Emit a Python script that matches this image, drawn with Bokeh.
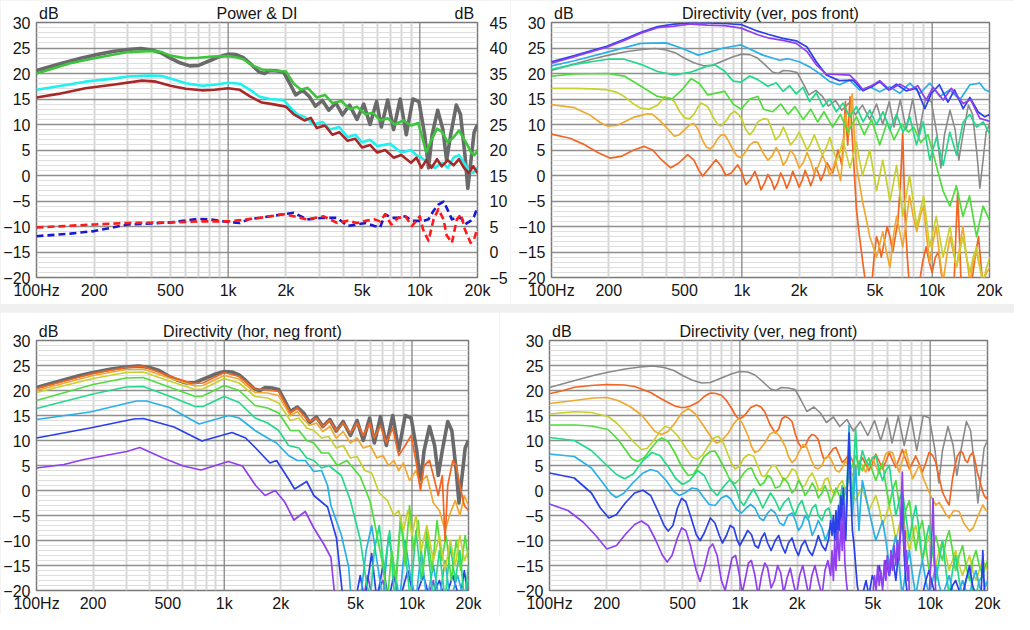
import math
from bokeh.plotting import figure
from bokeh.models import Range1d, LinearAxis, LogAxis, FixedTicker, Span
from bokeh.layouts import row, column
from bokeh.embed import file_html
from bokeh.resources import INLINE

FONT = "Liberation Sans"
X_TICKS = [100, 200, 500, 1000, 2000, 5000, 10000, 20000]
X_LABELS = ["100Hz", "200", "500", "1k", "2k", "5k", "10k", "20k"]
Y_TICKS = [30, 25, 20, 15, 10, 5, 0, -5, -10, -15, -20]
DI_TICKS = [45, 40, 35, 30, 25, 20, 15, 10, 5, 0, -5]
TITLES = ["Power & DI", "Directivity (ver, pos front)",
          "Directivity (hor, neg front)", "Directivity (ver, neg front)"]
UNIT = "dB"

# ---- on-axis response (shared grey curve) : (Hz, dB)
ONAXIS = [(100,20.6),(130,21.8),(170,23.0),(200,23.6),(250,24.3),(300,24.7),(350,24.9),(400,24.6),(450,24.0),(500,23.0),(560,22.1),(630,21.5),(700,21.6),(800,22.5),(900,23.3),(1000,23.8),(1100,23.7),(1200,23.1),(1300,22.0),(1450,20.3),(1550,20.0),(1650,20.6),(1800,20.5),(1950,20.2),(2100,18.0),(2250,15.8),(2450,16.7),(2650,15.5),(2850,13.6),(3100,14.7),(3350,12.8),(3650,14.2),(3950,11.9),(4300,13.8),(4700,11.0),(5100,14.0),(5500,10.0),(5950,14.5),(6300,9.5),(6800,14.8),(7300,9.0),(7900,15.0),(8500,8.0),(9200,15.0),(9900,14.5),(10600,8.0),(11100,1.5),(11600,8.0),(12400,12.8),(13200,9.0),(13800,3.0),(14500,8.0),(15500,13.8),(16300,12.0),(17200,4.0),(17800,-2.5),(18500,3.0),(19200,8.5),(20000,10.0)]

# ---- Power & DI panel
P1_GREEN = [(100,20.0),(150,22.0),(200,23.0),(300,24.2),(400,24.4),(450,24.2),(500,23.5),(600,23.0),(700,23.1),(830,23.3),(1000,23.4),(1100,23.2),(1200,22.8),(1350,21.5),(1500,20.8),(1700,20.6),(2000,20.4),(2200,18.0),(2400,16.8),(2600,17.2),(2900,15.3),(3200,15.8),(3500,14.2),(3900,14.6),(4300,13.0),(4700,13.5),(5200,12.0),(5700,12.3),(6200,10.8),(6800,11.2),(7400,10.0),(8200,10.8),(9000,9.8),(9800,10.3),(10300,7.5),(10800,4.5),(11500,7.0),(12300,9.2),(13100,8.5),(14000,6.5),(15000,7.5),(16000,8.8),(16800,7.5),(17700,6.0),(18500,4.5),(19300,4.0),(20000,5.0)]
P1_CYAN = [(100,16.8),(130,17.5),(180,18.4),(250,19.0),(300,19.4),(385,19.6),(450,19.5),(500,19.0),(600,18.1),(730,17.6),(850,17.8),(1000,18.2),(1150,18.0),(1300,16.8),(1450,15.5),(1650,15.0),(1950,14.8),(2150,13.0),(2300,12.0),(2500,11.5),(2800,10.0),(3100,10.5),(3400,9.0),(3800,9.5),(4200,7.5),(4600,8.0),(5000,6.5),(5500,7.0),(6000,5.8),(7000,6.2),(8000,4.5),(9000,5.0),(9600,4.0),(10200,3.5),(11000,2.5),(12000,1.5),(13000,2.5),(14000,1.5),(15000,3.5),(16000,4.0),(17000,2.5),(18000,1.0),(19000,0.5),(20000,1.5)]
P1_BROWN = [(100,15.3),(130,16.0),(180,17.1),(250,17.8),(355,18.6),(420,18.4),(500,17.6),(600,17.0),(730,16.7),(850,16.8),(1000,17.1),(1150,16.8),(1300,15.5),(1500,14.3),(1700,14.0),(2000,13.5),(2200,12.0),(2500,10.8),(2700,11.3),(2900,9.3),(3200,9.8),(3500,8.0),(3800,8.5),(4200,6.8),(4600,7.2),(5000,5.5),(5500,6.0),(6000,4.5),(6600,5.0),(7300,3.5),(8000,4.0),(9000,2.5),(9600,3.5),(10200,1.5),(10800,3.0),(11500,1.5),(12300,3.2),(13000,1.8),(14000,3.0),(15000,2.0),(16000,3.2),(17000,1.5),(18000,0.5),(19000,1.8),(20000,0.5)]
# DI curves, right-axis dB
P1_DI_RED = [(100,4.8),(200,5.4),(300,5.7),(500,5.8),(700,6.0),(1000,6.0),(1200,6.3),(1470,6.7),(1940,7.4),(2200,7.0),(2580,6.4),(3150,7.0),(3700,5.7),(4200,6.1),(4700,5.7),(5200,6.1),(5800,6.4),(6200,6.0),(6600,7.4),(7100,5.4),(7700,6.7),(8400,7.0),(9100,5.1),(10000,7.0),(10400,4.4),(11100,2.2),(11800,6.4),(12500,8.4),(13300,6.4),(13800,3.3),(14700,1.8),(15600,6.4),(16400,7.4),(17200,4.4),(18400,1.8),(19200,2.5),(20000,4.8)]
P1_DI_BLUE = [(100,3.1),(150,3.6),(200,4.1),(300,5.4),(400,5.6),(500,5.8),(700,6.5),(800,6.4),(1000,5.9),(1150,5.7),(1300,6.5),(1470,6.7),(1940,7.4),(2200,7.7),(2580,6.4),(3150,6.7),(3700,6.7),(4200,5.1),(4700,5.4),(5200,5.7),(5800,5.1),(6200,4.8),(6600,7.4),(7100,6.7),(7700,6.7),(8400,7.0),(9100,6.1),(10000,6.1),(10400,6.1),(11100,6.4),(11800,8.1),(12500,9.3),(13300,9.9),(13800,8.7),(14700,6.4),(15600,6.7),(16400,6.7),(17200,5.4),(18400,6.1),(19200,7.0),(20000,8.7)]

# ---- Directivity (ver, pos front)
P2_C8 = [(100,22.0),(132,23.3),(197,25.2),(241,26.5),(295,27.9),(361,29.0),(442,29.3),(541,29.7),(662,29.5),(811,29.4),(991,28.9),(1213,27.6),(1370,27.0),(1644,26.5),(1932,25.9),(2200,24.3),(2461,21.7),(2780,19.9),(3687,19.7),(3997,18.4),(4334,16.8),(4900,17.8),(5300,18.6),(5986,16.8),(6760,17.9),(7627,16.8),(8400,17.6),(9300,14.8),(10100,17.3),(11420,14.8),(12600,17.1),(14553,14.1),(15900,14.9),(17800,11.2),(20130,10.6)]
P2_C7 = [(100,22.3),(132,23.5),(197,25.4),(241,26.7),(295,28.1),(361,29.2),(442,29.7),(541,29.9),(662,29.9),(811,29.8),(991,29.6),(1213,28.3),(1370,27.7),(1644,26.9),(1932,26.4),(2200,25.2),(2461,22.3),(2780,19.7),(3250,18.6),(3840,18.7),(4334,16.6),(4800,17.4),(5300,18.4),(5900,16.8),(6489,17.9),(7300,16.6),(8268,17.1),(9150,13.1),(9900,16.1),(10900,17.8),(12100,14.4),(13100,16.8),(14553,13.1),(15778,15.3),(17400,12.5),(18900,11.5),(20130,12.0)]
P2_C6 = [(100,21.5),(132,22.5),(197,24.2),(295,25.9),(400,26.0),(480,25.0),(590,23.6),(800,25.0),(991,25.6),(1290,23.6),(1580,22.6),(1750,22.9),(2000,22.3),(2270,21.3),(2560,20.0),(2894,18.4),(3260,17.8),(3687,18.7),(4150,16.8),(4698,17.4),(5300,16.4),(5986,17.4),(6760,16.1),(7627,18.1),(8600,16.1),(9718,18.1),(10970,15.5),(12382,16.8),(13950,14.8),(15778,17.8),(17800,18.1),(18900,16.8),(20130,16.4)]
P2_C5 = [(100,20.8),(132,21.8),(197,22.8),(241,22.8),(295,21.8),(361,20.4),(442,19.7),(541,20.3),(662,21.5),(720,21.7),(811,20.5),(900,18.5),(991,18.3),(1100,19.5),(1213,18.8),(1370,17.5),(1516,18.2),(1644,16.5),(1782,17.6),(1932,16.0),(2094,17.3),(2270,14.5),(2461,16.2),(2668,13.5),(2894,15.0),(3137,12.5),(3401,14.2),(3687,11.5),(3997,13.5),(4334,10.5),(4698,12.8),(5093,10.0),(5521,12.5),(5986,9.0),(6489,12.0),(7035,8.5),(7627,11.5),(8268,6.0),(8963,10.5),(9718,3.0),(10535,7.5),(11420,2.0),(12382,8.5),(13423,4.0),(14553,10.5),(15778,12.0),(17104,9.5),(18544,10.5),(20130,8.0)]
P2_C4 = [(100,19.5),(132,19.9),(197,20.0),(241,19.5),(295,17.5),(361,15.5),(430,15.0),(490,17.0),(541,19.0),(600,18.0),(662,15.8),(740,16.2),(811,16.5),(900,14.0),(991,13.0),(1100,15.0),(1213,15.5),(1300,13.0),(1450,12.5),(1600,14.0),(1750,12.0),(1900,13.5),(2100,11.0),(2300,13.0),(2500,10.5),(2700,12.5),(3000,9.5),(3300,12.0),(3600,8.5),(4000,11.5),(4400,8.0),(4800,11.0),(5300,6.0),(5800,10.5),(6300,7.0),(6900,10.0),(7500,8.5),(8000,9.5),(8700,6.5),(9500,8.0),(10000,5.0),(10500,2.0),(11400,-3.0),(12400,-6.0),(13400,-2.0),(14500,-8.0),(15700,-4.0),(17100,-12.0),(18500,-6.0),(20130,-9.0)]
P2_C3 = [(100,17.1),(132,17.1),(165,17.0),(197,16.8),(220,16.3),(241,15.5),(270,14.0),(295,13.2),(325,13.0),(361,13.8),(392,15.4),(420,15.2),(442,14.5),(470,12.6),(500,11.3),(530,11.1),(560,12.0),(590,13.5),(611,14.2),(662,13.5),(705,11.5),(750,9.9),(778,9.7),(830,10.8),(870,12.0),(915,12.6),(960,12.0),(1000,11.0),(1050,9.0),(1100,8.0),(1150,8.8),(1213,10.5),(1290,11.1),(1370,11.0),(1440,9.0),(1500,7.0),(1580,7.8),(1650,9.5),(1720,8.0),(1800,6.0),(1900,7.0),(2000,8.5),(2100,6.8),(2200,5.0),(2300,6.2),(2400,8.0),(2520,6.0),(2650,4.0),(2780,5.5),(2900,7.5),(3020,5.0),(3150,3.0),(3270,4.5),(3400,7.0),(3550,4.0),(3700,1.5),(3850,4.0),(4000,6.5),(4150,3.0),(4300,0.0),(4500,2.5),(4700,5.0),(4900,1.0),(5100,-3.0),(5300,0.0),(5500,3.0),(5750,-1.0),(6000,-5.0),(6250,-1.5),(6500,2.0),(6750,-3.0),(7000,-8.0),(7300,-4.0),(7600,0.0),(7950,-5.0),(8300,-10.0),(8650,-7.0),(9000,-4.0),(9350,-9.0),(9700,-14.0),(10100,-11.0),(10500,-8.0),(10950,-12.0),(11400,-16.0),(11900,-13.0),(12400,-10.0),(12900,-14.0),(13400,-18.0),(13950,-15.0),(14500,-12.0),(15150,-16.0),(15800,-19.0),(16400,-16.0),(17100,-14.0),(17800,-18.0),(18500,-21.0),(19300,-18.0),(20130,-16.0)]
P2_C2 = [(100,13.9),(132,13.3),(160,11.8),(180,10.4),(197,9.7),(220,9.8),(241,10.5),(270,11.4),(295,11.8),(320,12.1),(340,12.0),(370,10.8),(400,9.5),(442,7.7),(470,8.0),(500,9.0),(530,9.9),(560,10.2),(590,9.0),(620,7.0),(650,5.6),(680,5.2),(710,5.8),(740,7.0),(775,7.9),(811,8.0),(850,6.8),(900,5.0),(945,3.8),(991,3.5),(1040,4.5),(1100,6.0),(1160,6.6),(1213,6.5),(1290,4.5),(1370,3.0),(1440,3.8),(1516,5.5),(1580,4.2),(1650,2.0),(1720,3.0),(1800,5.0),(1900,3.8),(2000,1.5),(2100,2.5),(2200,4.5),(2300,2.8),(2400,0.5),(2520,1.8),(2650,4.0),(2780,2.2),(2900,0.0),(3000,1.2),(3100,3.0),(3200,1.0),(3300,-1.0),(3400,4.0),(3500,12.0),(3650,8.0),(3800,16.0),(3900,8.0),(4000,2.0),(4150,-1.5),(4300,-5.0),(4500,-8.5),(4700,-12.0),(4900,-14.0),(5100,-16.0),(5300,-13.5),(5500,-11.0),(5750,-15.0),(6000,-18.0),(6250,-12.0),(6500,-8.0),(6750,-11.0),(7000,-14.0),(7300,-9.0),(7600,-4.0),(7950,-8.0),(8300,-11.0),(8650,-8.0),(9000,-6.0),(9350,-12.0),(9700,-17.0),(10100,-13.0),(10500,-10.0),(10950,-16.0),(11400,-21.0),(11900,-16.0),(12400,-12.0),(12900,-15.0),(13400,-18.0),(13950,-14.0),(14500,-10.0),(15150,-16.0),(15800,-21.0),(16400,-17.0),(17100,-15.0),(17800,-18.0),(18500,-21.0),(19300,-19.0),(20130,-18.0)]
P2_C1 = [(100,8.1),(125,7.3),(150,6.0),(175,4.5),(204,3.4),(235,3.8),(270,5.0),(307,5.7),(340,5.0),(380,3.0),(423,1.5),(465,2.4),(519,4.1),(560,3.0),(595,1.0),(623,-0.1),(665,1.2),(731,3.1),(780,1.8),(824,0.0),(880,0.5),(952,2.1),(1000,0.6),(1050,-1.8),(1110,-0.8),(1170,0.8),(1215,-0.8),(1260,-2.8),(1320,-1.4),(1370,0.2),(1430,-1.0),(1480,-2.7),(1540,-1.5),(1600,0.5),(1660,-0.8),(1720,-2.5),(1790,-1.0),(1850,0.8),(1920,-0.6),(2000,-2.3),(2080,-0.8),(2150,1.0),(2230,-0.5),(2300,-2.0),(2380,-0.5),(2450,1.5),(2520,0.5),(2600,-1.0),(2700,0.5),(2800,2.5),(2900,1.5),(3000,0.5),(3100,2.5),(3200,5.0),(3280,3.5),(3350,2.0),(3430,8.0),(3500,14.5),(3550,9.0),(3600,6.0),(3650,11.0),(3700,15.4),(3780,9.0),(3850,4.0),(4000,-6.7),(4150,-12.0),(4300,-16.5),(4500,-22.0),(4800,-22.0),(4950,-16.0),(5100,-12.0),(5250,-13.5),(5400,-16.0),(5600,-13.0),(5800,-10.0),(6000,-12.0),(6200,-15.0),(6400,-12.0),(6600,-9.0),(6800,-2.0),(7000,8.3),(7100,0.0),(7200,-8.0),(7400,-16.0),(7600,-22.0),(8500,-22.0),(8900,-17.0),(9300,-14.0),(9650,-17.0),(10000,-19.0),(10400,-16.0),(10800,-15.0),(11150,-19.0),(11500,-22.0),(13000,-22.0),(13300,-12.0),(13600,-3.4),(13900,-12.0),(14200,-22.0),(16000,-22.0),(16800,-16.0),(17500,-12.0),(18000,-17.0),(18500,-22.0),(20130,-22.0)]

# ---- Directivity (hor, neg front)
P3_C1 = [(100,20.4),(200,23.4),(300,24.6),(370,24.8),(500,23.0),(680,21.4),(770,21.5),(1000,23.6),(1200,22.8),(1460,20.3),(1650,20.2),(1950,19.8),(2250,15.5),(2450,16.5),(2650,15.0),(2850,13.8),(3100,14.5),(3350,12.8),(3650,14.0),(3950,12.0),(4300,13.5),(4700,11.5),(5100,13.5),(5500,11.0),(5950,13.5),(6300,10.5),(6800,13.0),(7300,9.5),(7900,12.5),(8500,7.0),(9200,9.0),(9900,11.0),(10600,5.0),(11100,0.0),(11600,5.0),(12400,6.0),(13200,2.0),(13800,-1.0),(14500,3.0),(15000,-10.0),(15500,1.0),(16500,6.0),(17200,5.0),(18000,1.0),(19000,-3.0),(20000,-4.0)]
P3_C2 = [(100,20.0),(200,23.0),(300,24.2),(370,24.3),(500,22.6),(700,20.9),(770,21.0),(1000,23.0),(1200,22.3),(1460,19.6),(1700,19.5),(1950,19.0),(2250,15.0),(2450,15.8),(2650,14.2),(2850,13.0),(3100,13.5),(3350,11.8),(3650,12.8),(3950,10.5),(4300,11.8),(4700,9.5),(5100,10.5),(5500,8.5),(6000,9.0),(6500,6.5),(7000,7.0),(7500,5.0),(8000,6.0),(8500,4.0),(9000,5.5),(9700,2.0),(10500,4.0),(11000,1.5),(12000,3.0),(13000,-2.5),(14000,-4.0),(15000,-8.0),(16000,-4.5),(17000,-2.0),(18000,-5.0),(19000,-1.0),(20000,-3.0)]
P3_C3 = [(100,19.6),(200,22.4),(300,23.6),(370,23.7),(500,22.0),(700,20.2),(770,20.3),(1000,22.4),(1200,21.5),(1460,18.8),(1700,18.5),(1950,17.5),(2250,14.0),(2500,14.5),(2750,12.5),(3000,12.0),(3300,10.5),(3600,10.8),(3950,8.5),(4300,9.0),(4700,6.5),(5100,6.8),(5600,4.0),(6100,3.5),(6700,-0.5),(7400,-2.0),(8000,-5.0),(8500,-4.0),(9000,-8.0),(9500,-4.0),(10000,-9.0),(10500,-5.0),(11200,-12.0),(12000,-7.0),(13000,-14.0),(14000,-9.0),(15000,-16.0),(16000,-10.0),(17000,-15.0),(18000,-9.0),(19000,-14.0),(20000,-12.0)]
P3_C4 = [(100,18.0),(200,21.2),(300,22.5),(370,22.6),(500,20.8),(700,18.8),(770,18.9),(1000,21.0),(1200,20.0),(1460,17.0),(1700,16.5),(1950,15.5),(2250,12.0),(2500,12.0),(2750,10.0),(3000,9.5),(3300,7.5),(3600,7.5),(4000,5.0),(4500,6.0),(5300,2.8),(6000,-2.3),(6500,-8.8),(7000,-15.0),(7400,-22.0),(7800,-12.0),(8200,-18.0),(8700,-5.0),(9200,-15.0),(9700,-3.0),(10200,-12.0),(10800,-6.0),(11400,-17.0),(12000,-8.0),(12800,-16.0),(13600,-6.0),(14400,-14.0),(15200,-9.0),(16200,-18.0),(17200,-10.0),(18200,-16.0),(19200,-9.0),(20000,-14.0)]
P3_C5 = [(100,16.4),(200,19.3),(300,20.7),(370,20.8),(500,19.0),(700,16.8),(770,16.8),(1000,18.8),(1200,17.6),(1460,14.5),(1700,13.5),(1950,12.0),(2200,9.0),(2500,8.5),(2750,6.5),(3000,6.0),(3300,4.5),(3600,5.0),(4200,3.0),(4700,-2.0),(5300,-9.8),(5700,-18.0),(6000,-22.0),(6300,-12.0),(6700,-7.0),(7100,-16.0),(7600,-8.0),(8100,-22.0),(8700,-6.0),(9200,-12.0),(9800,-22.0),(10500,-8.0),(11200,-18.0),(12000,-10.0),(13000,-22.0),(14000,-12.0),(15000,-22.0),(16000,-11.0),(17000,-18.0),(18000,-12.0),(19000,-22.0),(20000,-15.0)]
P3_C6 = [(100,14.2),(193,15.7),(341,17.9),(385,17.9),(510,16.6),(735,13.3),(1060,15.0),(1200,14.5),(1460,12.0),(1700,10.5),(1900,9.5),(2200,7.0),(2450,6.0),(2700,6.0),(3000,3.8),(3300,4.0),(3550,1.0),(3700,-3.0),(4200,-8.8),(4600,-15.3),(4750,-22.0),(5300,-22.0),(5700,-12.0),(6100,-7.0),(6500,-14.0),(7000,-22.0),(7500,-9.0),(8000,-15.0),(8600,-22.0),(9200,-10.0),(9800,-17.0),(10500,-22.0),(11200,-12.0),(12000,-22.0),(13000,-15.0),(14000,-22.0),(15000,-14.0),(16000,-22.0),(17500,-17.0),(19000,-22.0),(20000,-18.0)]
P3_C7 = [(100,10.5),(193,12.5),(330,14.3),(371,14.4),(540,12.7),(760,9.9),(1100,11.6),(1300,10.5),(1470,8.5),(1750,5.5),(1900,6.0),(2200,2.3),(2370,0.3),(2750,1.8),(3000,-1.0),(3550,-3.3),(3960,-9.5),(4300,-22.0),(5000,-22.0),(5300,-17.0),(5600,-22.0),(6100,-12.6),(6500,-22.0),(7000,-15.0),(7500,-22.0),(8000,-17.0),(8600,-22.0),(9500,-16.0),(10300,-22.0),(11500,-17.0),(12500,-22.0),(14000,-18.0),(15000,-22.0),(16500,-17.0),(18000,-22.0),(19000,-16.0),(20000,-22.0)]
P3_C8 = [(100,4.5),(140,5.2),(179,6.2),(302,7.8),(355,8.6),(472,6.5),(605,4.9),(752,4.1),(1050,5.8),(1250,4.9),(1470,1.0),(1650,-1.0),(1870,0.0),(2100,-2.3),(2350,-5.9),(2700,-4.2),(3000,-7.5),(3400,-10.8),(3700,-13.4),(3900,-22.0),(5500,-22.0),(5800,-17.0),(6200,-22.0),(7000,-18.0),(7500,-22.0),(12000,-22.0),(13000,-18.0),(13500,-22.0),(20000,-22.0)]

# ---- Directivity (ver, neg front)
P4_C1 = [(100,19.35),(118,20.0),(135,20.65),(165,21.0),(200,21.2),(248,21.1),(280,20.8),(304,20.3),(340,19.6),(372,18.7),(410,17.8),(456,16.9),(490,16.6),(514,16.6),(550,16.9),(605,17.7),(650,18.8),(690,19.4),(711,19.5),(750,19.4),(804,19.0),(850,18.0),(906,16.4),(950,15.0),(982,14.4),(1020,14.5),(1064,15.1),(1140,16.6),(1224,17.1),(1290,16.7),(1352,15.75),(1440,13.2),(1535,11.5),(1600,12.3),(1660,14.3),(1729,14.8),(1800,14.5),(1880,13.8),(1950,11.5),(2030,9.5),(2110,8.6),(2198,8.8),(2300,10.5),(2383,11.2),(2480,11.0),(2583,10.2),(2670,8.0),(2760,6.3),(2870,6.6),(2990,7.6),(3100,8.4),(3200,8.6),(3330,7.0),(3450,5.6),(3600,6.3),(3748,7.25),(3900,6.0),(4060,4.6),(4230,5.3),(4401,6.6),(4580,5.3),(4765,4.0),(4965,5.4),(5177,7.25),(5400,5.8),(5622,4.3),(5850,5.8),(6100,7.6),(6340,6.0),(6600,4.6),(6870,6.4),(7140,8.2),(7440,6.2),(7770,4.3),(8080,5.6),(8400,6.9),(8750,5.3),(9100,3.7),(9480,5.5),(9860,7.6),(10300,7.0),(10700,5.6),(11150,2.5),(11600,-0.3),(12100,-1.8),(12580,-2.9),(13100,2.35),(13500,5.0),(13900,6.9),(14400,7.8),(14800,7.6),(15300,6.0),(15700,5.6),(16200,7.0),(16700,7.6),(17000,6.8),(17400,5.0),(17700,3.5),(18100,2.35),(18500,1.0),(18900,-0.3),(19300,-1.2),(19700,-1.6),(20000,-1.2)]
P4_C2 = [(100,17.4),(135,18.0),(170,18.5),(200,18.6),(229,18.0),(265,16.8),(304,15.1),(330,13.5),(358,11.8),(388,11.2),(420,11.8),(456,13.5),(495,15.5),(535,16.4),(581,15.4),(630,13.5),(684,11.5),(720,10.2),(755,9.5),(800,9.9),(871,11.5),(930,13.4),(982,14.4),(1030,13.5),(1107,10.85),(1150,8.8),(1199,7.6),(1260,8.0),(1352,9.5),(1440,11.3),(1535,11.8),(1620,10.8),(1729,8.9),(1800,6.8),(1880,5.6),(1960,6.2),(2050,7.8),(2150,9.2),(2250,8.6),(2383,5.95),(2480,4.6),(2583,4.3),(2700,5.0),(2800,6.5),(2933,6.9),(3050,5.8),(3200,4.0),(3329,3.7),(3450,4.6),(3598,5.95),(3750,4.5),(3901,3.0),(4060,4.3),(4226,5.95),(4400,5.0),(4580,3.7),(4770,5.0),(4965,6.6),(5170,5.0),(5383,3.4),(5600,5.2),(5835,7.25),(6100,7.8),(6340,7.6),(6600,5.5),(6870,3.7),(7140,6.0),(7440,8.2),(7770,5.0),(8080,2.35),(8400,3.6),(8750,5.0),(9300,2.0),(9860,-0.3),(10300,-1.8),(10700,-2.9),(11150,-2.4),(11600,-3.5),(12100,-4.8),(12580,-5.5),(13300,-4.0),(14200,-4.2),(15000,-6.5),(16100,-8.1),(16800,-7.5),(17400,-6.1),(18100,-4.5),(18900,-2.9),(19500,-3.8),(20000,-4.2)]
P4_C3 = [(100,15.3),(135,15.75),(166,15.6),(203,14.8),(225,13.5),(248,11.8),(275,9.8),(304,8.2),(325,8.4),(350,9.8),(380,11.8),(404,12.8),(430,12.5),(470,11.0),(520,8.5),(560,6.7),(600,6.2),(640,7.2),(690,9.2),(730,10.5),(770,10.85),(820,9.5),(870,7.0),(910,5.2),(943,4.3),(990,4.8),(1050,6.5),(1110,7.2),(1180,6.9),(1240,5.0),(1300,3.0),(1350,2.8),(1420,4.0),(1480,5.0),(1535,5.0),(1620,3.5),(1700,2.0),(1790,2.8),(1880,4.3),(1960,4.0),(2030,2.5),(2120,0.8),(2200,1.0),(2300,2.6),(2400,3.5),(2500,2.0),(2600,0.0),(2700,0.5),(2800,2.2),(2900,2.5),(3000,0.5),(3150,-1.0),(3300,1.0),(3450,2.0),(3600,0.0),(3750,2.5),(3900,-0.5),(4060,-2.0),(4230,-0.5),(4400,0.5),(4580,-1.5),(4765,-4.0),(4965,-2.5),(5177,-1.0),(5400,-3.5),(5622,-7.0),(5850,-5.0),(6100,-3.0),(6340,-6.0),(6600,-10.0),(6870,-7.0),(7140,-5.0),(7440,-8.0),(7770,-12.0),(8080,-9.0),(8400,-7.0),(8750,-10.0),(9100,-14.0),(9480,-11.0),(9860,-9.0),(10300,-12.0),(10700,-15.0),(11150,-12.0),(11600,-10.0),(12100,-13.0),(12580,-16.0),(13100,-14.0),(13600,-12.0),(14200,-15.0),(14800,-17.0),(15400,-15.0),(16100,-13.0),(16700,-16.0),(17400,-18.0),(18100,-16.0),(18900,-14.0),(19500,-15.0),(20000,-16.0)]
P4_C4 = [(100,13.1),(135,13.1),(166,12.9),(203,12.2),(229,10.2),(250,8.2),(270,6.4),(290,5.8),(315,6.6),(345,8.6),(370,10.0),(388,10.5),(420,9.8),(455,7.6),(495,4.8),(535,3.0),(570,3.2),(605,4.8),(650,6.8),(700,7.8),(740,7.9),(790,6.0),(840,4.0),(890,2.0),(943,1.4),(1000,2.3),(1050,3.5),(1100,4.3),(1150,4.5),(1210,2.6),(1280,1.0),(1340,1.6),(1400,3.0),(1460,2.5),(1535,0.5),(1620,0.8),(1700,2.5),(1790,1.5),(1880,-0.5),(1960,0.3),(2030,2.0),(2110,1.0),(2200,-1.0),(2300,0.0),(2400,1.5),(2500,0.3),(2583,-1.5),(2700,-0.5),(2800,1.0),(2900,-0.5),(3000,-2.5),(3100,-1.0),(3200,0.5),(3330,-1.0),(3450,-3.0),(3600,0.0),(3750,3.0),(3900,5.0),(4060,7.0),(4230,5.0),(4401,4.0),(4580,5.5),(4765,6.5),(4965,4.0),(5177,2.0),(5400,4.0),(5622,5.5),(5850,1.0),(6100,-3.0),(6340,0.0),(6600,2.0),(6870,-3.0),(7140,-8.0),(7440,-4.0),(7770,-2.0),(8080,-7.0),(8400,-12.0),(8750,-8.0),(9100,-6.0),(9480,-11.0),(9860,-16.0),(10300,-12.0),(10700,-9.0),(11150,-12.0),(11600,-14.0),(12100,-10.0),(12580,-8.0),(13100,-12.0),(13600,-16.0),(14200,-13.0),(14800,-11.0),(15400,-15.0),(16100,-18.0),(16700,-14.0),(17400,-12.0),(18100,-15.0),(18900,-17.0),(19500,-15.0),(20000,-14.0)]
P4_C5 = [(100,10.6),(135,10.0),(166,8.0),(200,5.0),(225,3.2),(248,2.35),(275,3.3),(310,6.0),(345,7.6),(380,7.0),(420,4.8),(460,2.4),(500,1.2),(545,2.0),(600,4.0),(650,3.0),(700,0.5),(760,-1.0),(830,1.0),(890,2.2),(950,0.5),(1000,-2.0),(1050,-3.0),(1120,-1.0),(1180,0.3),(1250,-1.5),(1320,-3.5),(1380,-2.0),(1450,-0.5),(1535,-2.0),(1620,-4.0),(1700,-2.5),(1800,-1.5),(1880,-3.5),(1950,-5.0),(2030,-3.0),(2120,-2.0),(2200,-4.0),(2300,-5.5),(2400,-3.5),(2500,-2.8),(2583,-5.0),(2700,-6.0),(2817,-4.0),(2933,-3.5),(3050,-6.0),(3200,-6.5),(3329,-3.0),(3450,1.0),(3530,-4.0),(3598,-6.0),(3680,3.0),(3748,9.0),(3820,2.0),(3901,-2.0),(3980,6.0),(4060,12.2),(4140,6.0),(4226,3.0),(4300,6.0),(4401,8.0),(4580,6.0),(4765,5.0),(4965,6.5),(5177,7.0),(5400,4.0),(5622,2.0),(5850,4.0),(6100,5.0),(6340,0.0),(6600,-5.0),(6870,-2.0),(7140,0.0),(7440,-5.0),(7770,-10.0),(8080,-6.0),(8400,-3.0),(8750,-8.0),(9100,-14.0),(9480,-10.0),(9860,-7.0),(10300,-12.0),(10700,-18.0),(11150,-14.0),(11600,-10.0),(12100,-16.0),(12580,-21.0),(13100,-16.0),(13600,-13.0),(14200,-18.0),(14800,-21.0),(15400,-18.0),(16100,-16.0),(16700,-20.0),(17400,-21.0),(18100,-18.0),(18900,-17.0),(19500,-19.0),(20000,-19.0)]
P4_C6 = [(100,7.3),(135,6.8),(166,4.5),(190,1.6),(210,-0.6),(224,-1.4),(245,-0.6),(275,1.6),(310,3.5),(340,4.2),(370,3.8),(410,2.0),(450,-0.2),(480,-1.0),(514,-0.5),(560,0.5),(600,0.3),(640,-1.2),(690,-2.8),(740,-3.0),(800,-1.5),(850,-1.0),(900,-1.8),(960,-3.8),(1022,-4.5),(1080,-3.5),(1140,-2.8),(1200,-3.5),(1270,-5.5),(1330,-6.0),(1400,-4.5),(1460,-3.8),(1535,-4.5),(1620,-6.5),(1700,-7.0),(1790,-5.0),(1880,-4.5),(1960,-6.0),(2030,-8.0),(2120,-7.0),(2200,-5.0),(2300,-6.0),(2400,-9.0),(2500,-7.5),(2583,-6.0),(2700,-7.5),(2817,-10.0),(2933,-8.0),(3050,-6.5),(3200,-10.0),(3329,-7.0),(3450,-3.0),(3530,-8.0),(3598,-9.0),(3670,2.0),(3748,13.1),(3820,3.0),(3901,-5.0),(3980,0.0),(4060,5.0),(4140,-2.0),(4226,-8.0),(4300,-3.0),(4401,2.0),(4580,-1.0),(4765,-4.0),(4965,-7.0),(5177,-10.0),(5400,-8.0),(5622,-6.0),(5850,-10.0),(6100,-15.0),(6340,-12.0),(6600,-9.0),(6870,-15.0),(7140,-21.0),(7440,-16.0),(7770,-12.0),(8080,-17.0),(8400,-21.0),(8750,-17.0),(9100,-14.0),(9480,-18.0),(9860,-21.0),(10300,-18.0),(10700,-15.0),(11150,-19.0),(11600,-21.0),(12100,-19.0),(12580,-17.0),(13100,-20.0),(13600,-21.0),(14200,-20.0),(14800,-18.0),(15400,-20.0),(16100,-21.0),(16700,-18.0),(17400,-16.0),(18100,-19.0),(18900,-21.0),(19500,-19.0),(20000,-18.0)]
P4_C7 = [(100,3.5),(135,2.5),(166,-0.5),(185,-3.5),(205,-5.5),(225,-4.8),(250,-2.5),(280,-0.5),(310,0.06),(340,-1.0),(370,-4.0),(400,-7.0),(420,-8.1),(445,-7.0),(470,-3.5),(494,-1.6),(520,-2.2),(555,-5.5),(590,-8.8),(618,-10.0),(650,-8.5),(700,-5.5),(740,-6.5),(780,-9.0),(810,-10.5),(850,-9.0),(890,-7.0),(930,-7.5),(970,-10.0),(1000,-11.0),(1050,-9.5),(1100,-8.0),(1150,-8.8),(1200,-11.0),(1250,-11.5),(1300,-9.5),(1350,-8.5),(1400,-10.5),(1460,-12.0),(1535,-10.0),(1600,-9.0),(1660,-11.0),(1730,-12.5),(1800,-10.5),(1880,-9.5),(1950,-11.5),(2030,-13.0),(2110,-11.0),(2200,-10.0),(2300,-12.0),(2400,-13.0),(2500,-11.0),(2583,-9.0),(2700,-11.0),(2817,-12.0),(2933,-9.5),(3000,-6.0),(3050,-9.0),(3100,-5.0),(3150,-10.0),(3200,-4.0),(3250,-11.0),(3300,-3.0),(3350,-8.0),(3400,-1.0),(3450,-6.0),(3500,0.5),(3550,-7.0),(3598,-10.0),(3680,2.0),(3748,11.5),(3820,0.0),(3901,-8.0),(3980,-11.0),(4060,-15.0),(4140,-19.0),(4226,-21.0),(4400,-21.0),(4600,-18.0),(4765,-21.0),(4965,-17.0),(5177,-19.0),(5400,-15.0),(5622,-19.0),(5850,-14.0),(6100,-17.0),(6340,-13.0),(6600,-18.0),(6870,-11.0),(7000,-8.0),(7140,-1.0),(7220,-9.0),(7300,-13.0),(7440,-18.0),(7600,-21.0),(9100,-21.0),(9480,-18.0),(9860,-16.0),(10300,-19.0),(10700,-21.0),(12580,-21.0),(13100,-19.0),(13600,-18.0),(14200,-20.0),(14800,-21.0),(15400,-18.0),(16100,-15.0),(16700,-19.0),(17400,-21.0),(18500,-21.0),(18900,-12.0),(19300,-21.0),(20000,-21.0)]
P4_C8 = [(100,-2.7),(125,-4.0),(150,-6.3),(175,-9.0),(200,-11.7),(225,-11.0),(250,-8.8),(280,-6.8),(304,-6.1),(330,-7.0),(360,-9.8),(390,-12.8),(415,-14.3),(440,-13.0),(470,-9.5),(494,-7.5),(520,-8.0),(550,-11.0),(590,-16.0),(618,-18.2),(650,-15.5),(690,-11.5),(720,-10.7),(760,-13.0),(800,-18.0),(837,-20.0),(870,-17.0),(910,-13.5),(950,-13.0),(990,-16.5),(1030,-20.5),(1070,-17.5),(1110,-14.5),(1150,-14.0),(1200,-17.0),(1248,-21.0),(1300,-17.0),(1352,-14.5),(1400,-15.5),(1460,-19.5),(1520,-18.0),(1580,-15.0),(1640,-16.5),(1700,-20.5),(1770,-17.5),(1840,-15.5),(1910,-18.5),(1980,-21.0),(2060,-17.0),(2140,-15.0),(2220,-18.0),(2300,-21.0),(2390,-17.0),(2480,-15.0),(2580,-18.0),(2700,-21.0),(2800,-16.0),(2900,-14.0),(3000,-17.0),(3050,-12.0),(3100,-18.0),(3150,-10.0),(3200,-16.0),(3260,-8.0),(3329,-14.0),(3400,-6.0),(3450,-12.0),(3500,-3.0),(3560,-14.0),(3620,-18.0),(3700,-21.0),(5000,-21.0),(5100,-17.0),(5200,-20.0),(5300,-15.0),(5400,-19.0),(5500,-16.0),(5622,-20.0),(5750,-14.0),(5850,-18.0),(5950,-13.0),(6100,-17.0),(6220,-12.0),(6340,-16.0),(6470,-11.0),(6600,-15.0),(6730,-10.0),(6870,-14.0),(7000,-6.0),(7140,3.7),(7220,-5.0),(7300,-12.0),(7380,-8.0),(7440,-16.0),(7520,-12.0),(7600,-18.0),(7700,-15.0),(7770,-21.0),(9860,-21.0),(10100,-14.0),(10350,-1.6),(10500,-12.0),(10700,-21.0),(20000,-21.0)]

# colours of the angle curves (red-orange ... violet)
C = ["#f26522", "#f0a830", "#c8d030", "#50dc3c", "#22d88a", "#2ab0e6", "#2a40e8", "#9040ee"]

TXT = "#151515"


def style_axis(ax, standoff):
    ax.axis_line_color = None
    ax.major_tick_line_color = None
    ax.minor_tick_line_color = None
    ax.major_tick_out = 0
    ax.major_tick_in = 0
    ax.minor_tick_out = 0
    ax.minor_tick_in = 0
    ax.major_label_text_font = FONT
    ax.major_label_text_font_size = "16px"
    ax.major_label_text_color = TXT
    ax.major_label_standoff = standoff


def make_panel(title, width, height, left, right, top, bottom, di=False):
    p = figure(width=width, height=height, x_axis_type="log",
               x_range=Range1d(100, 20000), y_range=Range1d(-20, 30),
               output_backend="svg", toolbar_location=None,
               min_border_left=left, min_border_right=right,
               min_border_top=top, min_border_bottom=bottom)
    p.background_fill_color = "white"
    p.border_fill_color = "white"
    p.outline_line_color = "#7a7a7a"
    p.outline_line_width = 1.5
    p.xaxis.ticker = FixedTicker(ticks=X_TICKS)
    p.xaxis.major_label_overrides = {t: l for t, l in zip(X_TICKS, X_LABELS)}
    p.yaxis.ticker = FixedTicker(ticks=Y_TICKS)
    for ax in p.xaxis:
        style_axis(ax, 4)
    for ax in p.yaxis:
        style_axis(ax, 6)
    xminor = [m * d for d in (100, 1000, 10000) for m in range(2, 10) if m * d <= 20000]
    p.xgrid.ticker = FixedTicker(ticks=[], minor_ticks=xminor)
    p.xgrid.grid_line_color = None
    p.xgrid.minor_grid_line_color = "#d6d6d6"
    p.xgrid.minor_grid_line_width = 2
    p.ygrid.ticker = FixedTicker(ticks=Y_TICKS, minor_ticks=[v for v in range(-20, 31) if v % 5])
    p.ygrid.grid_line_color = "#8f8f8f"
    p.ygrid.grid_line_width = 1.3
    p.ygrid.minor_grid_line_color = "#dedede"
    p.ygrid.minor_grid_line_width = 1
    for dec in (1000, 10000):
        p.add_layout(Span(location=dec, dimension="height", line_color="#858585",
                          line_width=1.3, level="underlay"))
    # header line (unit at the left, title centred, unit at the right) as
    # labels of an unlined axis above the frame
    top_ticks = [116, 1414] + ([17077] if di else [])
    top_labels = {116: UNIT, 1414: title, 17077: UNIT}
    top_ax = LogAxis(ticker=FixedTicker(ticks=top_ticks),
                     major_label_overrides={t: top_labels[t] for t in top_ticks})
    style_axis(top_ax, 1)
    p.add_layout(top_ax, "above")
    if di:
        p.extra_y_ranges = {"di": Range1d(-5, 45)}
        ax = LinearAxis(y_range_name="di", ticker=FixedTicker(ticks=DI_TICKS))
        style_axis(ax, 12)
        p.add_layout(ax, "right")
    return p


def draw(p, data, color, width, dash="solid", y_range_name="default"):
    xs = [d[0] for d in data]
    ys = [d[1] for d in data]
    p.line(xs, ys, line_color=color, line_width=width, line_dash=dash,
           line_join="round", y_range_name=y_range_name)


p1 = make_panel(TITLES[0], 510, 304, 31, 31, 22, 27, di=True)
draw(p1, ONAXIS, "#6a6a6a", 3.6)
draw(p1, P1_GREEN, "#3cc43c", 2.6)
draw(p1, P1_CYAN, "#1ff0f0", 2.6)
draw(p1, P1_BROWN, "#a82828", 2.6)
draw(p1, P1_DI_BLUE, "#1a1acc", 2.6, "7 4", "di")
draw(p1, P1_DI_RED, "#ff1a1a", 2.6, "7 4", "di")

p2 = make_panel(TITLES[1], 504, 304, 41, 25, 22, 27)
draw(p2, ONAXIS, "#8a8a8a", 1.6)
for data, col in zip([P2_C1, P2_C2, P2_C3, P2_C4, P2_C5, P2_C6, P2_C7, P2_C8], C):
    draw(p2, data, col, 1.7)

p3 = make_panel(TITLES[2], 499, 302, 31, 31, 28, 22)
draw(p3, ONAXIS, "#6a6a6a", 3.6)
for data, col in zip([P3_C8, P3_C7, P3_C6, P3_C5, P3_C4, P3_C3, P3_C2, P3_C1], C[::-1]):
    draw(p3, data, col, 1.7)

p4 = make_panel(TITLES[3], 515, 302, 50, 27, 28, 22)
draw(p4, ONAXIS, "#8a8a8a", 1.6)
for data, col in zip([P4_C1, P4_C2, P4_C3, P4_C4, P4_C5, P4_C6, P4_C7, P4_C8], C):
    draw(p4, data, col, 1.7)

layout = column(row(p1, p2), row(p3, p4), spacing=8,
                styles={"background-color": "#f0f0f0"})
open("out.html", "w").write(file_html(layout, INLINE))
